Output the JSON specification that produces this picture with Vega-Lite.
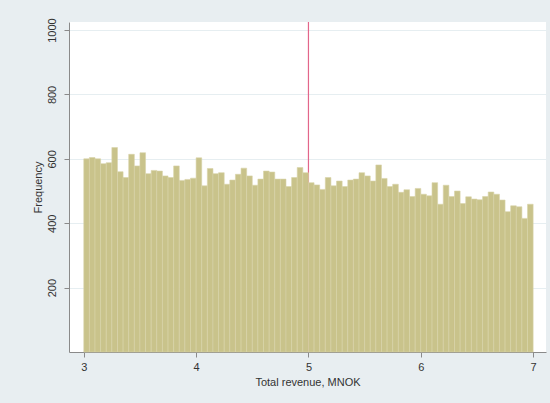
{
  "$schema": "https://vega.github.io/schema/vega-lite/v6.json",
  "width": 477,
  "height": 330,
  "autosize": "none",
  "padding": {"left": 69, "top": 22, "right": 4, "bottom": 51},
  "background": "#e8eef1",
  "config": {
    "view": {"stroke": null, "fill": "white"},
    "font": "Liberation Sans",
    "axis": {"domainColor": "#8a8a8a", "tickColor": "#8a8a8a", "labelColor": "#333333", "titleColor": "#333333", "labelFontSize": 11, "titleFontSize": 11, "titleFontWeight": "normal", "labelFlush": false}
  },
  "datasets": {
    "bins": [
      {"start": 3.00, "end": 3.05, "count": 600},
      {"start": 3.05, "end": 3.10, "count": 604},
      {"start": 3.10, "end": 3.15, "count": 600},
      {"start": 3.15, "end": 3.20, "count": 585},
      {"start": 3.20, "end": 3.25, "count": 588},
      {"start": 3.25, "end": 3.30, "count": 635},
      {"start": 3.30, "end": 3.35, "count": 560},
      {"start": 3.35, "end": 3.40, "count": 542},
      {"start": 3.40, "end": 3.45, "count": 614},
      {"start": 3.45, "end": 3.50, "count": 578},
      {"start": 3.50, "end": 3.55, "count": 619},
      {"start": 3.55, "end": 3.60, "count": 554},
      {"start": 3.60, "end": 3.65, "count": 564},
      {"start": 3.65, "end": 3.70, "count": 562},
      {"start": 3.70, "end": 3.75, "count": 547},
      {"start": 3.75, "end": 3.80, "count": 542},
      {"start": 3.80, "end": 3.85, "count": 578},
      {"start": 3.85, "end": 3.90, "count": 533},
      {"start": 3.90, "end": 3.95, "count": 536},
      {"start": 3.95, "end": 4.00, "count": 540},
      {"start": 4.00, "end": 4.05, "count": 603},
      {"start": 4.05, "end": 4.10, "count": 516},
      {"start": 4.10, "end": 4.15, "count": 570},
      {"start": 4.15, "end": 4.20, "count": 554},
      {"start": 4.20, "end": 4.25, "count": 557},
      {"start": 4.25, "end": 4.30, "count": 521},
      {"start": 4.30, "end": 4.35, "count": 534},
      {"start": 4.35, "end": 4.40, "count": 552},
      {"start": 4.40, "end": 4.45, "count": 571},
      {"start": 4.45, "end": 4.50, "count": 547},
      {"start": 4.50, "end": 4.55, "count": 518},
      {"start": 4.55, "end": 4.60, "count": 537},
      {"start": 4.60, "end": 4.65, "count": 562},
      {"start": 4.65, "end": 4.70, "count": 559},
      {"start": 4.70, "end": 4.75, "count": 537},
      {"start": 4.75, "end": 4.80, "count": 537},
      {"start": 4.80, "end": 4.85, "count": 514},
      {"start": 4.85, "end": 4.90, "count": 542},
      {"start": 4.90, "end": 4.95, "count": 573},
      {"start": 4.95, "end": 5.00, "count": 557},
      {"start": 5.00, "end": 5.05, "count": 526},
      {"start": 5.05, "end": 5.10, "count": 519},
      {"start": 5.10, "end": 5.15, "count": 505},
      {"start": 5.15, "end": 5.20, "count": 542},
      {"start": 5.20, "end": 5.25, "count": 516},
      {"start": 5.25, "end": 5.30, "count": 531},
      {"start": 5.30, "end": 5.35, "count": 514},
      {"start": 5.35, "end": 5.40, "count": 534},
      {"start": 5.40, "end": 5.45, "count": 537},
      {"start": 5.45, "end": 5.50, "count": 557},
      {"start": 5.50, "end": 5.55, "count": 547},
      {"start": 5.55, "end": 5.60, "count": 531},
      {"start": 5.60, "end": 5.65, "count": 581},
      {"start": 5.65, "end": 5.70, "count": 539},
      {"start": 5.70, "end": 5.75, "count": 514},
      {"start": 5.75, "end": 5.80, "count": 521},
      {"start": 5.80, "end": 5.85, "count": 496},
      {"start": 5.85, "end": 5.90, "count": 504},
      {"start": 5.90, "end": 5.95, "count": 483},
      {"start": 5.95, "end": 6.00, "count": 508},
      {"start": 6.00, "end": 6.05, "count": 490},
      {"start": 6.05, "end": 6.10, "count": 485},
      {"start": 6.10, "end": 6.15, "count": 526},
      {"start": 6.15, "end": 6.20, "count": 459},
      {"start": 6.20, "end": 6.25, "count": 518},
      {"start": 6.25, "end": 6.30, "count": 483},
      {"start": 6.30, "end": 6.35, "count": 500},
      {"start": 6.35, "end": 6.40, "count": 461},
      {"start": 6.40, "end": 6.45, "count": 482},
      {"start": 6.45, "end": 6.50, "count": 475},
      {"start": 6.50, "end": 6.55, "count": 473},
      {"start": 6.55, "end": 6.60, "count": 483},
      {"start": 6.60, "end": 6.65, "count": 497},
      {"start": 6.65, "end": 6.70, "count": 490},
      {"start": 6.70, "end": 6.75, "count": 472},
      {"start": 6.75, "end": 6.80, "count": 436},
      {"start": 6.80, "end": 6.85, "count": 454},
      {"start": 6.85, "end": 6.90, "count": 451},
      {"start": 6.90, "end": 6.95, "count": 415},
      {"start": 6.95, "end": 7.00, "count": 459}
    ],
    "cutoff": [{"value": 5}]
  },
  "layer": [
    {
      "data": {"name": "cutoff"},
      "mark": {"type": "rule", "color": "#e3668a", "strokeWidth": 1.2},
      "encoding": {
        "x": {"field": "value", "type": "quantitative", "scale": {"domain": [2.913, 7.07], "nice": false, "zero": false}}
      }
    },
    {
      "data": {"name": "bins"},
      "mark": {"type": "bar", "fill": "#c9c38b", "stroke": "#d9d4a9", "strokeWidth": 0.6, "orient": "vertical"},
      "encoding": {
        "x": {
          "field": "start", "type": "quantitative",
          "scale": {"domain": [2.913, 7.07], "nice": false, "zero": false},
          "axis": {"values": [3, 4, 5, 6, 7], "format": "d", "title": "Total revenue, MNOK", "grid": false, "tickSize": 5, "labelPadding": 4, "titlePadding": 4}
        },
        "x2": {"field": "end"},
        "y": {
          "field": "count", "type": "quantitative",
          "scale": {"domain": [0, 1025], "nice": false},
          "axis": {"values": [200, 400, 600, 800, 1000], "format": "d", "title": "Frequency", "grid": true, "gridColor": "#e6eef1", "gridWidth": 1, "tickSize": 5, "labelAngle": -90, "labelAlign": "center", "labelBaseline": "bottom", "labelPadding": 7, "titlePadding": 3}
        },
        "y2": {"datum": 0}
      }
    }
  ]
}
